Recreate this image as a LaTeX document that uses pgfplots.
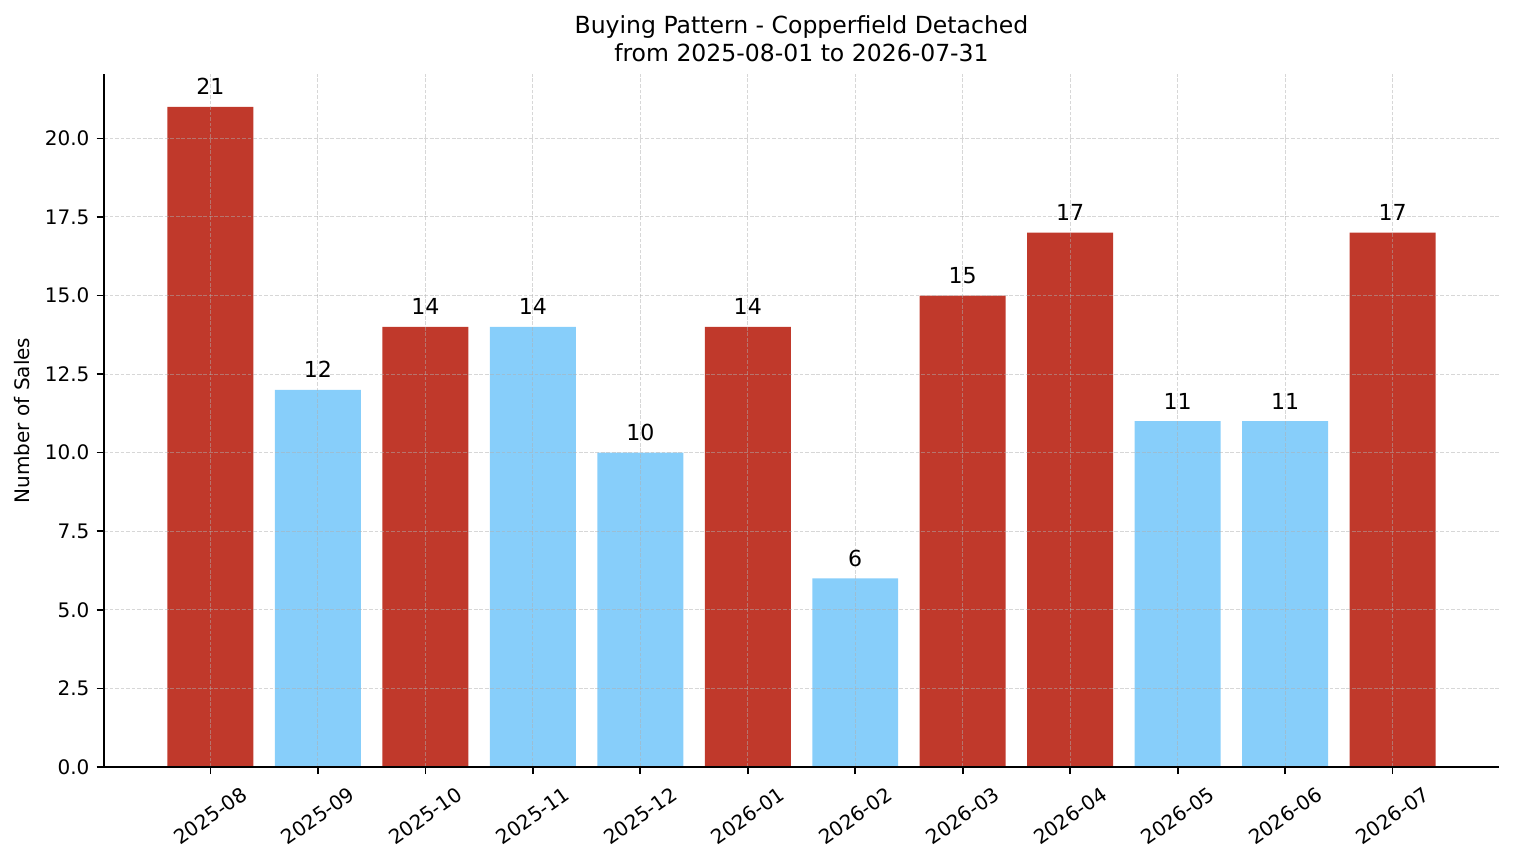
\documentclass[border=0pt]{standalone}
\usepackage{fontspec}
\setmainfont{DejaVu Sans}
\usepackage{pgfplots}
\pgfplotsset{compat=1.18}

\definecolor{upred}{HTML}{C0392B}
\definecolor{downblue}{HTML}{87CEFA}
\definecolor{gridgray}{HTML}{B0B0B0}

\begin{document}
\begin{tikzpicture}
\begin{axis}[
  scale only axis,
  width=669.6pt, height=332.6pt,
  xmin=-0.99, xmax=11.99,
  ymin=0, ymax=22.05,
  axis x line*=bottom, axis y line*=left,
  axis line style={-, line width=0.8pt, black},
  axis on top,
  ybar, bar width=0.8, bar shift=0pt,
  xtick={0,...,11},
  xticklabels={2025-08,2025-09,2025-10,2025-11,2025-12,2026-01,2026-02,2026-03,2026-04,2026-05,2026-06,2026-07},
  ytick={0,2.5,...,20},
  tick align=outside, major tick length=3.5pt,
  tick style={line width=0.8pt, black},
  /pgf/number format/assume math mode=true,
  yticklabel style={/pgf/number format/.cd, fixed, fixed zerofill, precision=1},
  ticklabel style={font=\fontsize{9.6}{11}\selectfont},
  xticklabel style={yshift=-20pt, rotate=35, anchor=center},
  grid=major,
  major grid style={dashed, dash pattern=on 1.85pt off 0.8pt, line width=0.5pt, gridgray, opacity=0.5},
  ylabel={Number of Sales},
  ylabel style={at={(axis description cs:-0.0591,0.5)}, anchor=center, font=\fontsize{9.6}{11}\selectfont},
  title={Buying Pattern - Copperfield Detached\\from 2025-08-01 to 2026-07-31},
  title style={align=center, font=\fontsize{11.3}{13.6}\selectfont, at={(axis description cs:0.5,1)}, anchor=south, inner sep=0pt, yshift=-0.4pt},
  nodes near coords,
  nodes near coords style={anchor=base, inner sep=0pt, yshift=5.8pt, font=\fontsize{10.6}{12}\selectfont, black},
]
% months where sales rose (first month included)
\addplot[fill=upred, draw=none] coordinates {
  (0,21) (2,14) (5,14) (7,15) (8,17) (11,17)
};
% months where sales fell or stayed flat
\addplot[fill=downblue, draw=none] coordinates {
  (1,12) (3,14) (4,10) (6,6) (9,11) (10,11)
};
\end{axis}
\pgfresetboundingbox
\useasboundingbox (-49.92pt,-46.08pt) rectangle (676.8pt,368.12pt);
\end{tikzpicture}
\end{document}
